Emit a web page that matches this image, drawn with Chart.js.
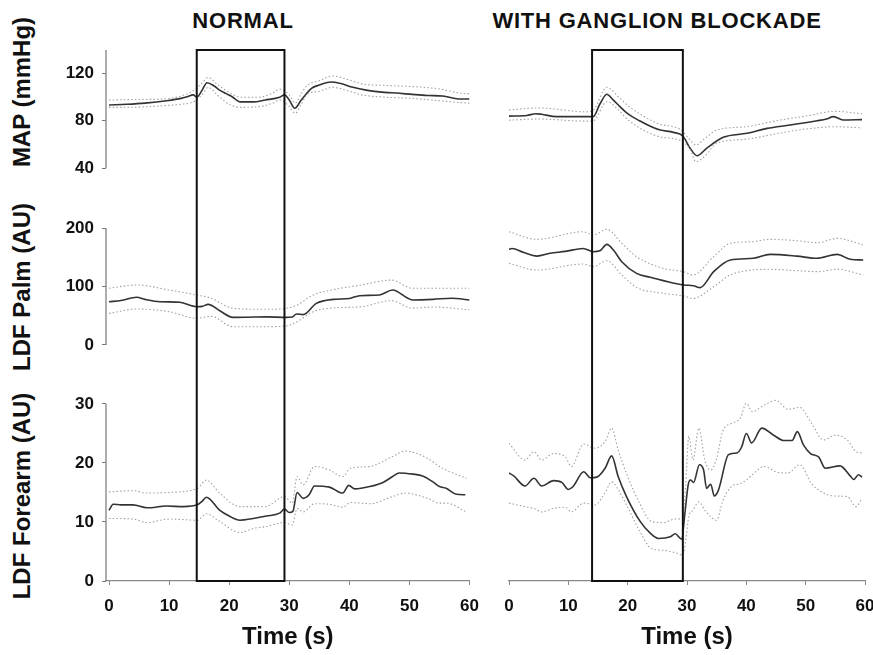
<!DOCTYPE html>
<html>
<head>
<meta charset="utf-8">
<script src="https://cdn.jsdelivr.net/npm/chart.js@4.4.1/dist/chart.umd.min.js"></script>
<style>
  html, body { margin: 0; padding: 0; background: #fff; overflow: hidden; }
  body { width: 873px; height: 655px; position: relative; font-family: "Liberation Sans", Arial, sans-serif; }
  .box { position: absolute; top: 0; height: 655px; }
  .head { position: absolute; font-weight: bold; font-size: 22px; letter-spacing: 0.8px; color: #111; white-space: nowrap; transform: translate(-50%, -50%); }
  .ylab { position: absolute; font-weight: bold; font-size: 24px; color: #111; white-space: nowrap; transform: translate(-50%, -50%) rotate(-90deg); }
</style>
</head>
<body>
<div class="head" style="left:243px; top:21px;">NORMAL</div>
<div class="head" style="left:657px; top:21px;">WITH GANGLION BLOCKADE</div>
<div class="ylab" style="left:22px; top:92px;">MAP (mmHg)</div>
<div class="ylab" style="left:22px; top:287px;">LDF Palm (AU)</div>
<div class="ylab" style="left:22px; top:496px;">LDF Forearm (AU)</div>
<div class="box" style="left:0; width:490px;"><canvas id="normal"></canvas></div>
<div class="box" style="left:400px; width:500px;"><canvas id="blockade"></canvas></div>
<script>
// tick labels
const timeTicks = [0, 10, 20, 30, 40, 50, 60];
const mapTicks = [40, 80, 120];
const palmTicks = [0, 100, 200];
const forearmTicks = [0, 10, 20, 30];

// grip period (s) marked by the rectangle
const normalGrip = [14.6, 29.2];
const blockadeGrip = [14.0, 29.3];

// NORMAL - MAP (mmHg)
const nMapT = [0, 3, 6, 9.6, 12, 13, 14, 14.6, 15.5, 16.3, 17.5, 18.4, 19.5, 20.6, 21.8, 24, 26, 28.4, 29.2, 30, 30.9, 32, 33.7, 35, 37, 38.4, 40.6, 42.8, 45, 48.3, 50.5, 53, 55.5, 58.6, 60];
const nMapMean = [93.4, 94, 95, 97, 99, 100.4, 102, 100, 106, 112.3, 109.5, 106, 103, 100, 96, 96, 97.6, 100, 102, 97.6, 90.6, 97.6, 107.5, 110.3, 112.9, 111.8, 108.4, 106, 104.5, 103.3, 102.4, 101.5, 101, 98.5, 98.5];
const nMapBandT = [0, 4, 9, 12, 14, 15.5, 16.5, 18, 20, 22, 25, 27, 28.5, 30, 31, 32, 33, 35, 37.2, 40, 42.2, 46, 50.5, 55, 58.6, 60];
const nMapUpper = [97.6, 98, 98.5, 101, 105.5, 112, 116.8, 111, 104, 100, 100, 103, 106.7, 102, 95, 103, 110, 114, 118, 114.6, 111.2, 110, 109, 107, 103.3, 103];
const nMapLower = [91.4, 91.5, 92.8, 94, 96, 102, 108.4, 102, 94, 91.4, 92, 94.5, 97.6, 92, 86.3, 94, 102.5, 105, 108.4, 105, 101.9, 100, 99, 97, 95.4, 95];

// NORMAL - LDF Palm (AU)
const nPalmT = [0, 2, 4.6, 6, 8.5, 11.8, 14.6, 15.5, 16.5, 18.5, 20.6, 23, 26.2, 29.5, 30.5, 31.2, 32.3, 34.5, 37.3, 40, 41.7, 45, 47.2, 50.5, 53.9, 57, 60];
const nPalmMean = [74, 76, 81.5, 78, 74, 73, 65.5, 66, 69.5, 58, 47.3, 47.5, 48, 47.3, 48, 53, 52, 71.2, 78, 79.6, 84.3, 85.5, 94, 77, 78, 80, 77];
const nPalmBandT = [0, 4.6, 10, 14.6, 17, 20.6, 26, 29.5, 31, 34, 37, 42, 47, 50.5, 54, 60];
const nPalmUpper = [97, 102.6, 94, 85.5, 80, 62.7, 61, 62.7, 66.7, 85.5, 94, 102.6, 111, 97, 97, 97];
const nPalmLower = [54, 61.5, 57, 45.6, 49, 31.3, 31.3, 32.5, 38, 57, 63, 65.5, 75.8, 63, 65, 60];

// NORMAL - LDF Forearm (AU)
const nFaT = [0, 0.7, 2, 4, 6.3, 9.6, 12.4, 14.7, 15.5, 16.2, 18.4, 20, 21.8, 24, 26.2, 28.4, 29.2, 30, 30.6, 31.3, 32.3, 33.3, 34.2, 36.7, 38.4, 38.9, 39.9, 40.9, 43.4, 45.6, 47.2, 48.3, 50.6, 52.2, 53.9, 55, 56.1, 57.8, 59.3];
const nFaMean = [12.0, 13.0, 12.9, 12.9, 12.4, 12.7, 12.6, 12.9, 13.5, 14.2, 12.0, 11.0, 10.3, 10.6, 11.0, 11.5, 12.2, 11.6, 11.8, 15.0, 14.0, 14.6, 16.1, 15.9, 15.0, 14.9, 16.2, 15.6, 16.0, 16.7, 17.7, 18.3, 18.1, 17.8, 16.8, 16.0, 15.7, 14.7, 14.6];
const nFaBandT = [0, 4, 6.3, 10, 14.7, 16.2, 18.4, 21.8, 24, 26, 29.2, 30.5, 31.3, 32.3, 34.2, 36.7, 38.9, 40.2, 43.4, 47.2, 49.3, 53, 55, 56.1, 59.5];
const nFaUpper = [15.1, 15.3, 14.9, 15.0, 15.7, 17.1, 14.9, 12.6, 12.6, 12.6, 14.3, 13.2, 17.7, 16.3, 19.4, 18.8, 17.7, 19.1, 19.4, 21.1, 22.0, 20.8, 19.4, 18.8, 17.4];
const nFaLower = [10.6, 10.5, 9.9, 10.5, 10.3, 11.4, 10.1, 8.2, 8.9, 9.2, 9.9, 9.5, 12.3, 11.7, 13.1, 13.0, 12.5, 13.3, 13.1, 14.3, 14.9, 14.0, 13.2, 13.2, 11.7];

// GANGLION BLOCKADE - MAP (mmHg)
const gMapT = [0, 3, 4.5, 5.5, 8, 13.1, 14.2, 15.3, 16.5, 17.5, 18.7, 20, 22, 24, 25.5, 27.7, 29.3, 30.5, 31.7, 33.3, 36.1, 40.1, 43.5, 47.4, 51.9, 53.5, 54.7, 56.3, 59.5];
const gMapMean = [84, 84.5, 86, 85.5, 83.5, 83.5, 83.5, 94, 102.5, 98, 92, 86, 80, 75, 72.2, 70.2, 67.1, 57, 50.4, 56.7, 66, 69.4, 73.6, 76.4, 80, 81.5, 83.5, 80.7, 81];
const gMapBandT = [0, 5, 13, 14.2, 16.5, 18.5, 20, 25, 29, 30.5, 31.5, 33, 35, 40, 45, 50, 55, 59.5];
const gMapUpper = [89.2, 90.9, 87.6, 89, 108.4, 100, 93, 77.9, 72.2, 64, 59.5, 65, 72.2, 75, 80, 84, 88, 86];
const gMapLower = [80.5, 81.5, 79.7, 80, 96.2, 89, 81, 67, 63, 56, 45.3, 50, 60.9, 64.4, 69, 73, 75, 74];

// GANGLION BLOCKADE - LDF Palm (AU)
const gPalmT = [0, 0.5, 2.5, 4.7, 6.9, 9.5, 12.5, 14.2, 15.3, 16.5, 17.6, 19, 21.5, 23.8, 26, 29.4, 31.1, 32.2, 34.5, 37.3, 41.2, 44, 48.5, 51.9, 55.3, 57.5, 59.7];
const gPalmMean = [163.5, 165, 158, 152, 156.7, 160, 165, 159.5, 161, 172, 162.4, 142.4, 122.5, 115.7, 110, 102.6, 101.4, 98, 125.4, 145.3, 148.2, 155, 152, 148.2, 155, 146.5, 145.3];
const gPalmBandT = [0, 4.7, 12.5, 14.2, 16.5, 19, 21.5, 26, 29.4, 31, 34.5, 37.3, 41, 44, 48.5, 52, 55.3, 59.7];
const gPalmUpper = [193.7, 180.6, 193.7, 188, 197.7, 173.8, 151, 131, 125.4, 119.7, 151, 173.8, 176.6, 180.6, 178.3, 174.9, 182.3, 171];
const gPalmLower = [139.6, 128.2, 138.5, 133.9, 144, 119.7, 98.5, 88.4, 83.8, 79.7, 99.7, 119.7, 128.2, 129.4, 127, 125.4, 129.4, 119.7];

// GANGLION BLOCKADE - LDF Forearm (AU)
const gFaT = [0, 0.8, 2.7, 4.2, 5.5, 7.5, 8.9, 10, 10.8, 12.6, 13.7, 14.8, 16.2, 17.3, 18.4, 19.8, 22.1, 23.8, 25.2, 27.2, 28, 29.1, 29.7, 30.2, 30.6, 31.1, 32.1, 32.8, 33.3, 34, 34.6, 35.3, 37, 38.4, 39.2, 40, 40.9, 42.6, 44.6, 46.3, 47.7, 48.6, 49.6, 50.8, 52.2, 53.3, 55.8, 57.5, 58.1, 58.9, 59.5];
const gFaMean = [18.3, 17.8, 16.1, 17.4, 16.1, 17.0, 16.7, 15.5, 16.0, 18.5, 17.5, 17.6, 19.1, 21.2, 17.7, 14.3, 10.1, 8.1, 7.2, 7.5, 8.0, 7.1, 12.0, 16.3, 17.1, 16.7, 19.7, 18.8, 15.7, 16.4, 14.4, 15.4, 21.4, 21.7, 22.7, 25.0, 23.4, 25.9, 24.7, 23.8, 23.8, 25.3, 23.1, 21.6, 21.0, 19.1, 19.5, 17.8, 17.2, 18.0, 17.6];
const gFaBandT = [0, 2.7, 4.2, 5.5, 7.5, 9.5, 10.5, 12.6, 14.5, 16.2, 17.3, 18.4, 20, 22, 24, 26, 28, 29.3, 29.8, 30.3, 31, 32, 33, 34, 35, 36, 37.5, 39, 40, 41, 43, 45, 47, 49, 51, 53, 55, 57, 58.5, 59.5];
const gFaUpper = [23.3, 20.5, 21.9, 20.5, 21.6, 21.0, 19.4, 23.2, 22.5, 23.6, 25.9, 22.2, 17.7, 13.2, 10.1, 9.9, 10.5, 10.6, 16.6, 24.5, 20.5, 25.9, 20.5, 18.8, 20.8, 25.3, 26.7, 27.6, 30.1, 28.7, 29.8, 30.6, 29.1, 29.4, 26.7, 23.9, 24.7, 23.9, 21.9, 21.7];
const gFaLower = [13.2, 12.6, 12.3, 11.7, 12.3, 12.5, 11.7, 13.2, 12.9, 15.0, 16.8, 15.5, 12.5, 8.5, 5.5, 5.2, 4.8, 4.4, 7.0, 10.9, 12.0, 13.4, 12.0, 10.9, 10.3, 13.5, 16.0, 16.5, 17.1, 18.0, 19.4, 18.5, 18.3, 19.7, 16.5, 14.9, 14.4, 14.3, 12.6, 14.0];

// which part of each y axis gets a drawn axis line
const axisSpans = [['yMap', 40, 140], ['yPalm', 0, 200], ['yFa', 0, 30]];

const tickFont = { family: '"Liberation Sans", Arial, sans-serif', size: 17, weight: 'bold' };

function pts(t, v) {
  return t.map((x, i) => ({ x: x, y: v[i] }));
}

function panel(axis, t, mean, bandT, upper, lower) {
  const dotted = { borderColor: '#a0a0a0', borderWidth: 1.1, borderDash: [1.5, 2.2], pointRadius: 0, fill: false, cubicInterpolationMode: 'monotone', yAxisID: axis };
  return [
    Object.assign({ data: pts(bandT, upper) }, dotted),
    Object.assign({ data: pts(bandT, lower) }, dotted),
    { data: pts(t, mean), yAxisID: axis, borderColor: '#333', borderWidth: 1.6, pointRadius: 0, fill: false, cubicInterpolationMode: 'monotone' }
  ];
}

const panelFrame = {
  id: 'panelFrame',
  afterDatasetsDraw(chart, args, opts) {
    const { ctx, scales } = chart;
    ctx.save();
    if (opts.axisLines) {
      ctx.strokeStyle = '#777';
      ctx.lineWidth = 1.2;
      axisSpans.forEach(([id, lo, hi]) => {
        const s = scales[id];
        ctx.beginPath();
        ctx.moveTo(s.right, s.getPixelForValue(lo));
        ctx.lineTo(s.right, s.getPixelForValue(hi));
        ctx.stroke();
      });
    }
    const x0 = scales.x.getPixelForValue(opts.grip[0]);
    const x1 = scales.x.getPixelForValue(opts.grip[1]);
    const y0 = scales.yMap.getPixelForValue(140);
    const y1 = scales.yFa.getPixelForValue(0);
    ctx.strokeStyle = '#111';
    ctx.lineWidth = 2;
    ctx.strokeRect(x0, y0, x1 - x0, y1 - y0);
    ctx.restore();
  }
};

function yScale(show, min, max, ticks, weight, stackWeight) {
  return {
    type: 'linear', position: 'left', stack: 'rows', stackWeight: stackWeight, weight: weight,
    min: min, max: max,
    afterBuildTicks: s => { s.ticks = ticks.map(v => ({ value: v })); },
    afterFit: s => { s.width = show ? 106 : 0; },
    ticks: { display: show, font: tickFont, color: '#111', padding: 8 },
    grid: { display: show, drawOnChartArea: false, tickLength: 4, color: '#777' },
    border: { display: false }
  };
}

function makeChart(id, sets, show, xMin, grip, padding) {
  new Chart(document.getElementById(id), {
    type: 'line',
    data: { datasets: sets },
    plugins: [panelFrame],
    options: {
      responsive: true,
      maintainAspectRatio: false,
      animation: false,
      layout: { padding: padding },
      plugins: {
        legend: { display: false },
        tooltip: { enabled: false },
        panelFrame: { axisLines: show, grip: grip }
      },
      scales: {
        x: {
          type: 'linear', min: xMin, max: 60,
          afterBuildTicks: s => { s.ticks = timeTicks.map(v => ({ value: v })); },
          afterFit: s => { s.height = 74; },
          ticks: { font: tickFont, color: '#111', padding: 11, maxRotation: 0, autoSkip: false },
          grid: { drawOnChartArea: false, tickLength: 4, color: '#888' },
          border: { color: '#888', width: 1.2 },
          title: { display: true, text: 'Time (s)', color: '#111', font: { family: tickFont.family, size: 24, weight: 'bold' }, padding: { top: 0, bottom: 3 } }
        },
        yMap: yScale(show, 14.58, 140, mapTicks, 3, 148),
        yPalm: yScale(show, -51.3, 251.3, palmTicks, 2, 177),
        yFa: yScale(show, 0, 34.9, forearmTicks, 1, 206)
      }
    }
  });
}

makeChart('normal', [].concat(
  panel('yMap', nMapT, nMapMean, nMapBandT, nMapUpper, nMapLower),
  panel('yPalm', nPalmT, nPalmMean, nPalmBandT, nPalmUpper, nPalmLower),
  panel('yFa', nFaT, nFaMean, nFaBandT, nFaUpper, nFaLower)
), true, -0.5, normalGrip, { top: 50, left: 0, right: 20, bottom: 0 });

makeChart('blockade', [].concat(
  panel('yMap', gMapT, gMapMean, gMapBandT, gMapUpper, gMapLower),
  panel('yPalm', gPalmT, gPalmMean, gPalmBandT, gPalmUpper, gPalmLower),
  panel('yFa', gFaT, gFaMean, gFaBandT, gFaUpper, gFaLower)
), false, 0, blockadeGrip, { top: 50, left: 109, right: 35, bottom: 0 });
</script>
</body>
</html>
